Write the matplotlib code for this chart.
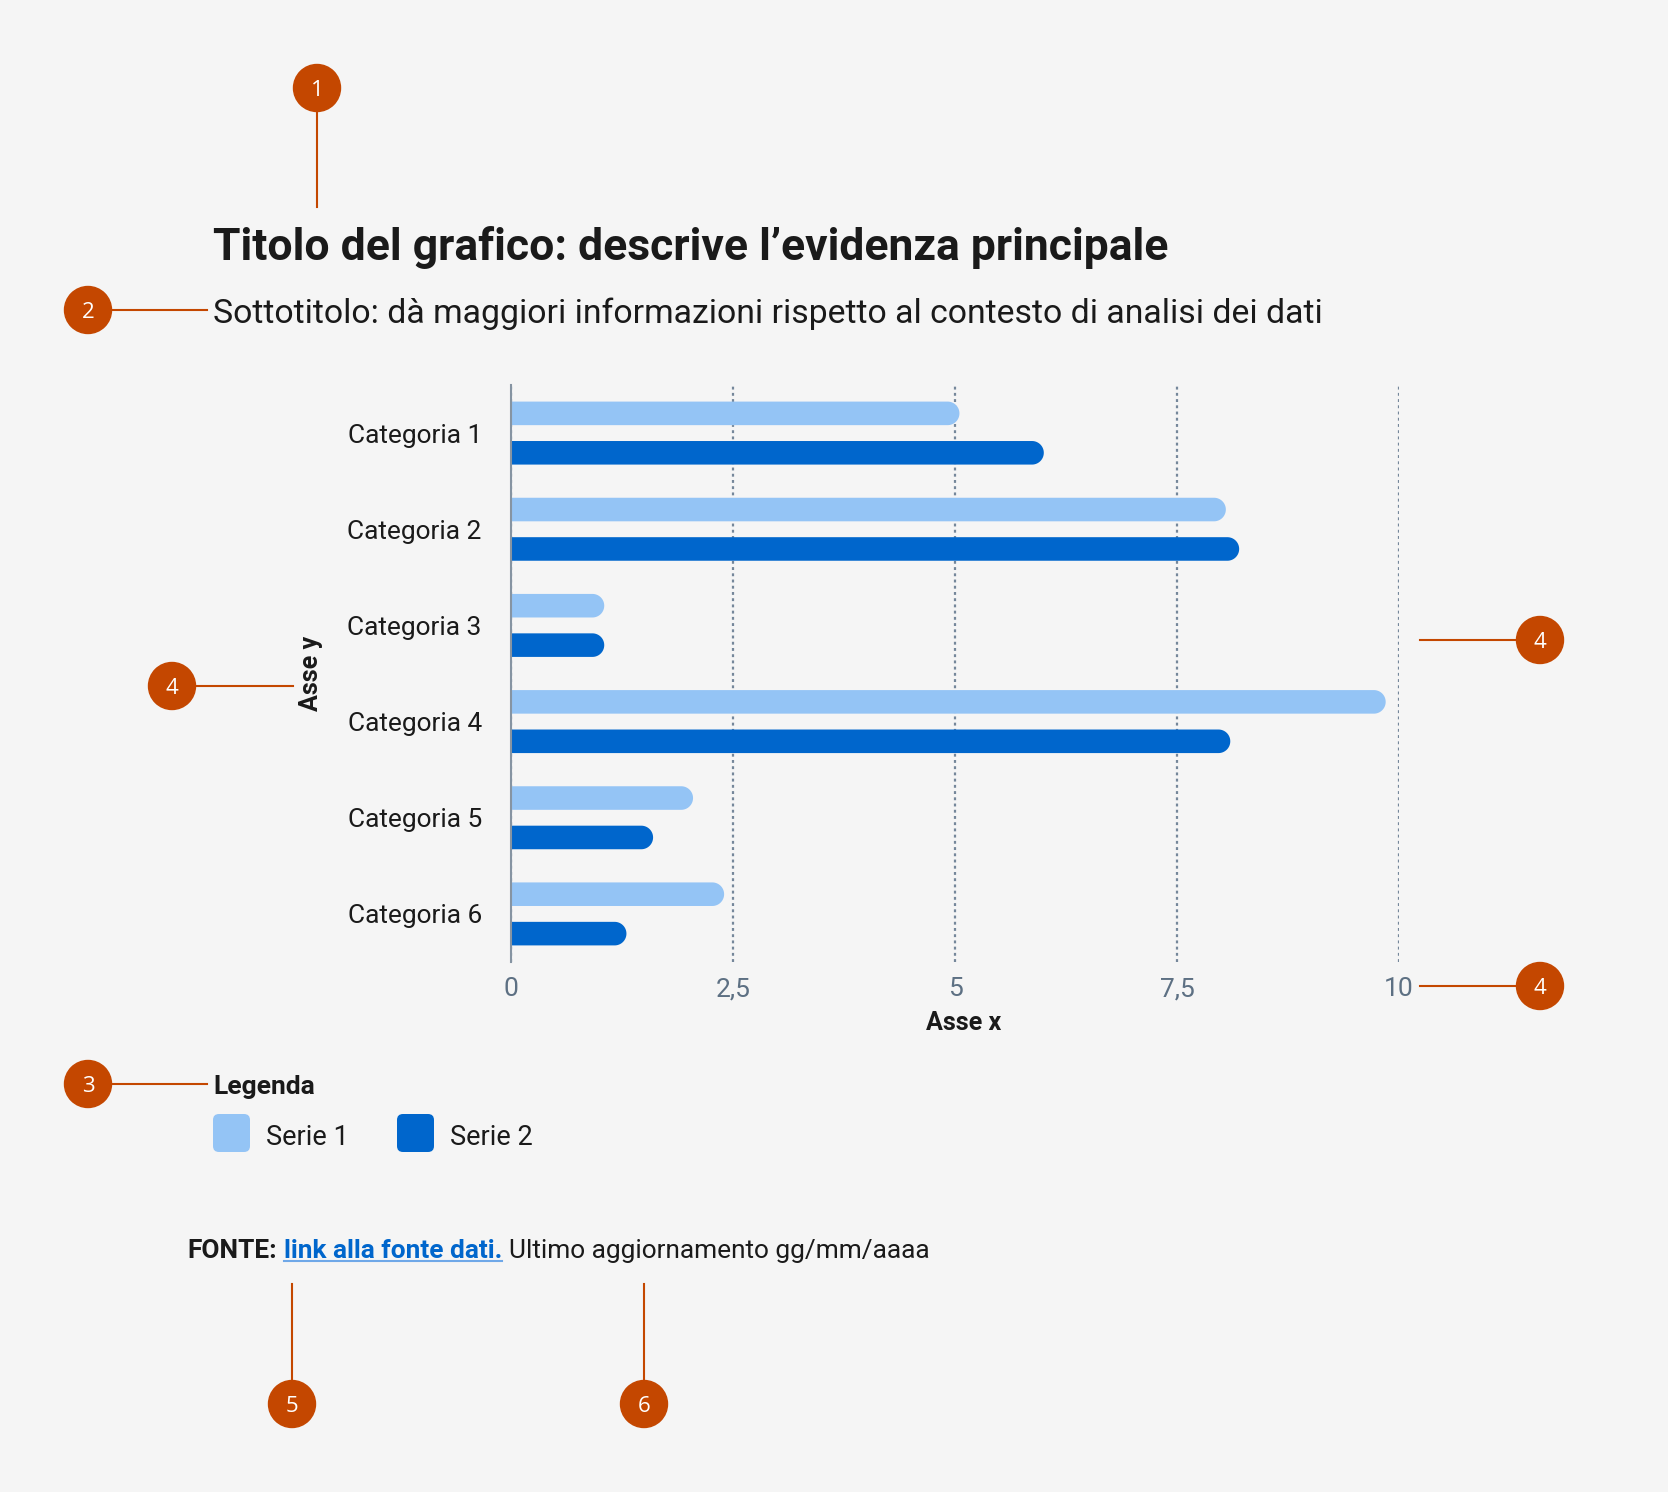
import matplotlib
matplotlib.use('Agg')
import matplotlib.pyplot as plt
import numpy as np
from matplotlib.path import Path
from matplotlib.patches import FancyBboxPatch, Circle, PathPatch

# data
categories = ['Categoria 1', 'Categoria 2', 'Categoria 3',
              'Categoria 4', 'Categoria 5', 'Categoria 6']
serie1 = [5.05, 8.05, 1.05, 9.85, 2.05, 2.4]
serie2 = [6.0, 8.2, 1.05, 8.1, 1.6, 1.3]
series_names = ['Serie 1', 'Serie 2']
xticks = [0, 2.5, 5, 7.5, 10]
xtick_labels = ['0', '2,5', '5', '7,5', '10']

BG = '#F5F5F5'
C1 = '#94C4F5'
C2 = '#0066CC'
ORANGE = '#C44700'
INK = '#1A1A1A'
GREY = '#5D7083'

plt.rcParams['font.family'] = ['Roboto', 'DejaVu Sans']

W, H = 1668, 1492
fig = plt.figure(figsize=(W / 100, H / 100), dpi=100, facecolor=BG)

# chart area (pixel box 511..1399 x 385..962)
ax = fig.add_axes([511 / W, 1 - 962 / H, 888 / W, 577 / H])
ax.set_facecolor(BG)
ax.set_xlim(0, 10)
ax.set_ylim(len(categories) - 0.5, -0.5)

bh = 0.245
off = 0.205
px_x = 888 / 10
px_y = 577 / len(categories)
ry = bh / 2
rx = ry * px_y / px_x


def pill(v, y):
    # bar from 0 to v with a semicircular right end
    t = np.linspace(-np.pi / 2, np.pi / 2, 40)
    xs = np.concatenate([[0], v - rx + rx * np.cos(t), [0]])
    ys = np.concatenate([[y - ry], y + ry * np.sin(t), [y + ry]])
    return Path(np.column_stack([xs, ys]), closed=False)


for vals, col, sign in [(serie1, C1, -1), (serie2, C2, 1)]:
    for i, v in enumerate(vals):
        ax.add_patch(PathPatch(pill(v, i + sign * off), fc=col, ec='none', zorder=3))

ax.set_yticks(range(len(categories)))
ax.set_yticklabels(categories, fontsize=18.9, color=INK)
ax.set_xticks(xticks)
ax.set_xticklabels(xtick_labels, fontsize=19, color=GREY)
ax.tick_params(axis='both', length=0)
ax.tick_params(axis='y', pad=21)
ax.tick_params(axis='x', pad=11)
ax.xaxis.grid(True, color='#75879A', lw=1.6, linestyle=(0, (1.3, 1.5)))
ax.set_axisbelow(True)
for s in ['top', 'right', 'bottom']:
    ax.spines[s].set_visible(False)
ax.spines['left'].set_color('#8694A2')
ax.spines['left'].set_linewidth(1.5)
ax.spines['left'].set_zorder(4)

ax.set_xlabel('Asse x', fontsize=18.1, weight='bold', color=INK)
ax.xaxis.set_label_coords((964 - 511) / 888, (962 - 1023) / 577)
ax.xaxis.label.set_va('center')
ax.set_ylabel('Asse y', fontsize=18.1, weight='bold', color=INK)
ax.yaxis.set_label_coords((311 - 511) / 888, (962 - 673) / 577)
ax.yaxis.label.set_va('center')

# overlay in pixel units for titles, legend, footer and annotations
ov = fig.add_axes([0, 0, 1, 1], facecolor='none')
ov.set_xlim(0, W)
ov.set_ylim(H, 0)
ov.axis('off')

ov.text(213, 260, 'Titolo del grafico: descrive l’evidenza principale',
        fontsize=32, weight='bold', color=INK, va='baseline')
ov.text(213, 323, 'Sottotitolo: dà maggiori informazioni rispetto al contesto di analisi dei dati',
        fontsize=24.3, color=INK, va='baseline')

ov.text(213, 1094, 'Legenda', fontsize=19, weight='bold', color=INK, va='baseline')
for name, col, x0 in zip(series_names, [C1, C2], [213, 397]):
    ov.add_patch(FancyBboxPatch((x0, 1114), 37, 38,
                                boxstyle='round,pad=0,rounding_size=6',
                                fc=col, ec='none'))
    ov.text(x0 + 53, 1145, name, fontsize=19.5, color=INK, va='baseline')

fs = 18.9
t1 = ov.text(187, 1258, 'FONTE:', fontsize=fs, weight='bold', color=INK, va='baseline')
t2 = ov.annotate('link alla fonte dati.', xy=(1, 0), xycoords=t1,
                 xytext=(5, 0), textcoords='offset points', va='bottom',
                 fontsize=fs, weight='bold', color=C2)
t3 = ov.annotate('Ultimo aggiornamento gg/mm/aaaa', xy=(1, 0), xycoords=t2,
                 xytext=(5, 0), textcoords='offset points', va='bottom',
                 fontsize=fs, color=INK)
fig.canvas.draw()
bb = t2.get_window_extent().transformed(ov.transData.inverted())
ov.plot([bb.x0, bb.x1], [1261, 1261], color='#6FA8E8', lw=1.5)


def badge(cx, cy, num):
    ov.add_patch(Circle((cx, cy), 23.5, color=ORANGE, zorder=5))
    ov.text(cx, cy, num, color='white', fontsize=16, ha='center',
            va='center_baseline', zorder=6, family=['Open Sans', 'DejaVu Sans'])


def lead(x0, y0, x1, y1):
    ov.plot([x0, x1], [y0, y1], color=ORANGE, lw=1.5, zorder=4)


badge(317, 88, '1'); lead(317, 110, 317, 207)
badge(88, 310, '2'); lead(110, 310, 207, 310)
badge(172, 686, '4'); lead(194, 686, 293, 686)
badge(1540, 640, '4'); lead(1420, 640, 1518, 640)
badge(1540, 986, '4'); lead(1420, 986, 1518, 986)
badge(88, 1084, '3'); lead(110, 1084, 207, 1084)
badge(292, 1404, '5'); lead(292, 1284, 292, 1382)
badge(644, 1404, '6'); lead(644, 1284, 644, 1382)

fig.savefig('out.png', dpi=100, facecolor=BG)
